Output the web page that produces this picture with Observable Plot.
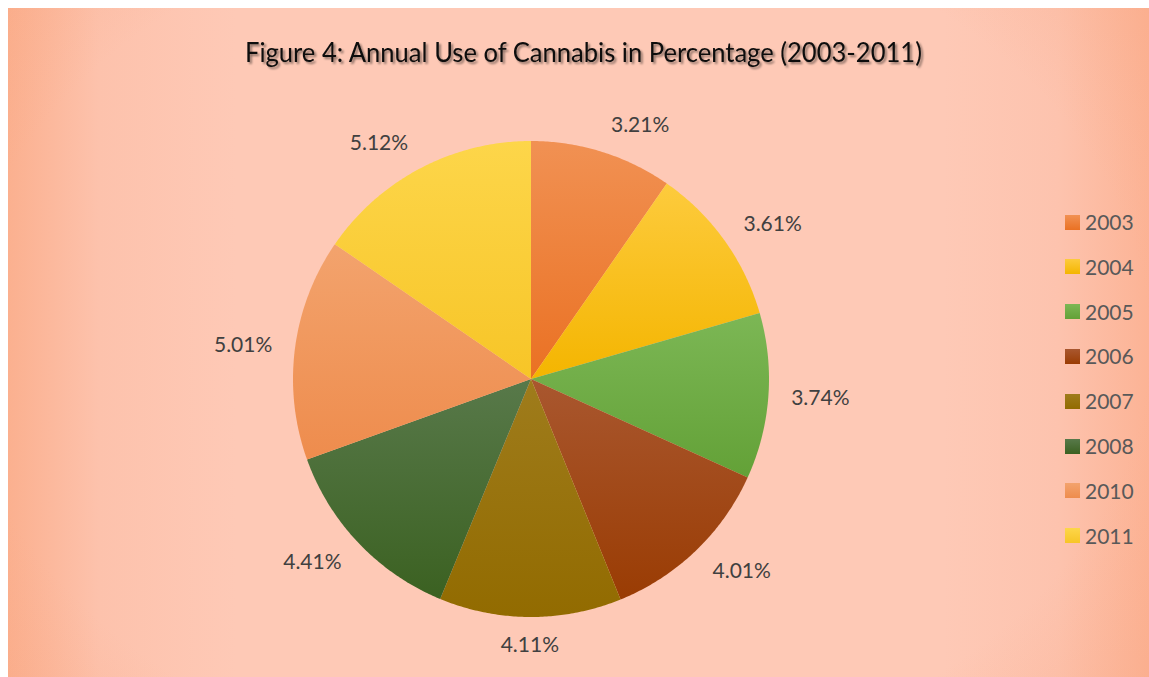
<!DOCTYPE html>
<html>
<head>
<meta charset="utf-8">
<script src="https://cdn.jsdelivr.net/npm/d3@7"></script>
<script src="https://cdn.jsdelivr.net/npm/@observablehq/plot@0.6"></script>
<style>
  html, body { margin: 0; padding: 0; background: #ffffff; }
  body { width: 1149px; height: 677px; overflow: hidden; position: relative; }
  #box {
    position: absolute; left: 8px; top: 8px; width: 1141px; height: 669px;
    background:
      radial-gradient(ellipse 72% 90% at 48% 50%, rgba(253,200,182,0) 72%, rgba(247,160,120,0.32) 100%),
      linear-gradient(to right, #fbb08f 0%, #fdc2ac 8%, #fec9b6 20%, #fec9b6 82%, #fdc3ae 92%, #fcb395 100%);
  }
  #title { position: absolute; left: 0; top: 0; }
  #chart { position: absolute; left: 0; top: 0; }
  #legend { position: absolute; left: 1057px; top: 202px; font-family: Lato, "Open Sans", sans-serif; font-size: 21px; color: #595959; }
  .item { position: absolute; left: 0; height: 24px; white-space: nowrap; }
  .sw { position: absolute; left: 0; top: 4.5px; width: 15px; height: 15px; }
  .lb { position: absolute; left: 20px; top: 0; line-height: 24px; }
</style>
</head>
<body>
<div id="box">
  <div id="chart"></div>
  <svg id="title" width="1141" height="80">
    <defs>
      <filter id="tshadow" x="-5%" y="-30%" width="110%" height="160%">
        <feGaussianBlur in="SourceAlpha" stdDeviation="1.3"/>
        <feOffset dx="1.5" dy="1.5" result="b"/>
        <feComponentTransfer><feFuncA type="linear" slope="0.45"/></feComponentTransfer>
        <feMerge><feMergeNode/><feMergeNode in="SourceGraphic"/></feMerge>
      </filter>
    </defs>
    <text x="237" y="54" textLength="677" lengthAdjust="spacingAndGlyphs"
      font-family="'Liberation Sans Narrow', Lato, 'Open Sans', sans-serif" font-size="26" fill="#0d0d0d"
      filter="url(#tshadow)">Figure 4: Annual Use of Cannabis in Percentage (2003-2011)</text>
  </svg>
  <div id="legend"></div>
</div>
<script>
// ---- data ----
const years  = ["2003", "2004", "2005", "2006", "2007", "2008", "2010", "2011"];
const values = [3.21, 3.61, 3.74, 4.01, 4.11, 4.41, 5.01, 5.12];
const labels = ["3.21%", "3.61%", "3.74%", "4.01%", "4.11%", "4.41%", "5.01%", "5.12%"];
const topColors    = ["#f19153", "#fdcb3d", "#7cb755", "#a9572f", "#9f7c1c", "#58794a", "#f3a36d", "#fdd64a"];
const bottomColors = ["#ea7123", "#f4b500", "#63a137", "#9a3c03", "#926b00", "#3b6121", "#ee8c4d", "#f7c527"];

// ---- layout ----
const W = 1141, H = 669;
const cx = 522.5, cy = 370.5, R = 238;

const rows = years.map((year, i) => ({year, value: values[i], label: labels[i], grad: `url(#slice${i})`, i}));
const arcs = d3.pie().sort(null).value(d => d.value)(rows);

const pts = [];
for (const a of arcs) {
  pts.push({year: a.data.year, grad: a.data.grad, x: 0, y: 0});
  const n = Math.max(2, Math.ceil((a.endAngle - a.startAngle) / (Math.PI / 360)));
  for (let k = 0; k <= n; k++) {
    const t = a.startAngle + (a.endAngle - a.startAngle) * k / n;
    pts.push({year: a.data.year, grad: a.data.grad, x: R * Math.sin(t), y: -R * Math.cos(t)});
  }
}

const lab = arcs.map(a => {
  const m = (a.startAngle + a.endAngle) / 2;
  const s = Math.sin(m), c = Math.cos(m);
  const r = R + 20;
  return {
    text: a.data.label,
    x: r * s + 32 * Math.max(-1, Math.min(1, s * 5)),
    y: -r * c - 8 * c
  };
});

const plot = Plot.plot({
  width: W, height: H,
  margin: 0,
  style: {background: "transparent", overflow: "visible"},
  x: {domain: [-cx, W - cx], range: [0, W], axis: null},
  y: {domain: [-cy, H - cy], range: [0, H], axis: null},
  color: {type: "identity"},
  marks: [
    Plot.line(pts, {x: "x", y: "y", z: "year", fill: "grad", stroke: "none", curve: "linear-closed"}),
    Plot.text(lab, {x: "x", y: "y", text: "text", fontSize: 21, fill: "#404040",
      fontFamily: "Lato, 'Open Sans', sans-serif"})
  ]
});

const defs = topColors.map((c, i) =>
  `<linearGradient id="slice${i}" x1="0" y1="0" x2="0" y2="1">
     <stop offset="0" stop-color="${c}"/><stop offset="1" stop-color="${bottomColors[i]}"/>
   </linearGradient>`).join("");
plot.insertAdjacentHTML("afterbegin", `<defs>${defs}</defs>`);
document.getElementById("chart").appendChild(plot);

// ---- legend ----
const legend = document.getElementById("legend");
years.forEach((y, i) => {
  const it = document.createElement("div");
  it.className = "item";
  it.style.top = (i * 44.8) + "px";
  it.innerHTML = `<div class="sw" style="background:linear-gradient(${topColors[i]}, ${bottomColors[i]})"></div><div class="lb">${y}</div>`;
  legend.appendChild(it);
});
</script>
</body>
</html>
